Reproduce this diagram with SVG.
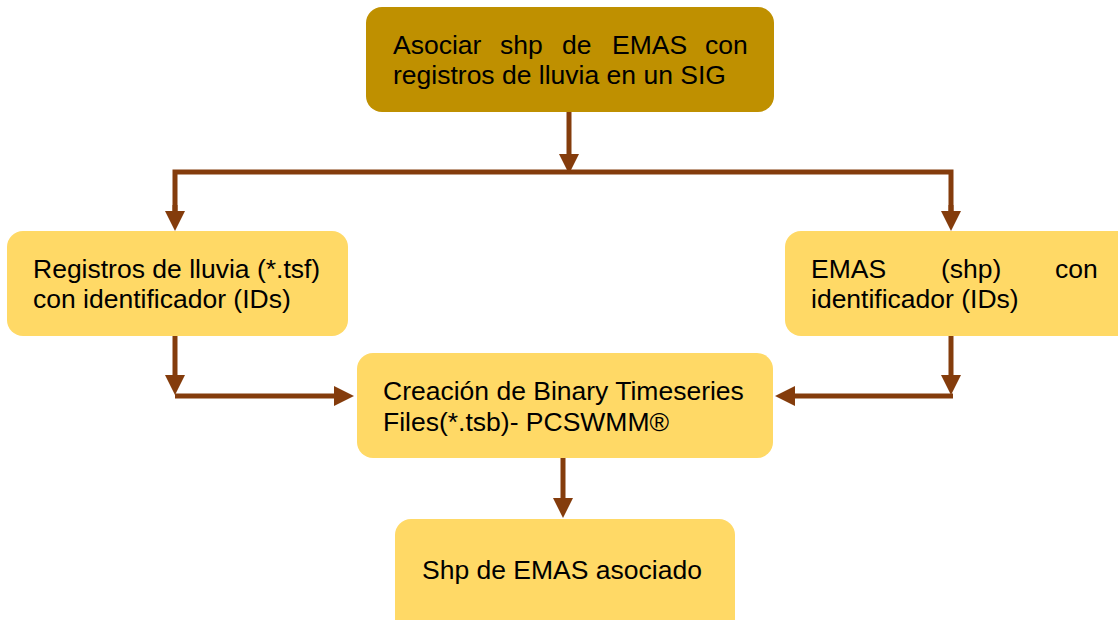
<svg xmlns="http://www.w3.org/2000/svg" width="1118" height="620" viewBox="0 0 1118 620">
<style>
.t{font-family:"Liberation Sans",Arial,sans-serif;font-size:26.5px;fill:#000}
.box{fill:#FFD966}
.conn{stroke:#843C0C;stroke-width:5;fill:none}
</style>
<defs>
<marker id="ah" markerWidth="4" markerHeight="4" refX="2.2" refY="2" orient="auto" markerUnits="strokeWidth" viewBox="0 0 4 4">
<path d="M0,0 L4,2 L0,4 Z" fill="#843C0C"/>
</marker>
</defs>
<rect width="1118" height="620" fill="#fff"/>
<g id="connectors">
<path class="conn" d="M569,112 V165" marker-end="url(#ah)"/>
<path class="conn" d="M175,222 V172 H951 V222"/>
<path class="conn" d="M175,205 V222" marker-end="url(#ah)"/>
<path class="conn" d="M951,205 V222" marker-end="url(#ah)"/>
<path class="conn" d="M175,336 V386" marker-end="url(#ah)"/>
<path class="conn" d="M175,396 H345" marker-end="url(#ah)"/>
<path class="conn" d="M951,336 V386" marker-end="url(#ah)"/>
<path class="conn" d="M953,396 H784" marker-end="url(#ah)"/>
<path class="conn" d="M563,458 V509" marker-end="url(#ah)"/>
</g>
<g id="n1">
<rect x="366" y="7" width="408" height="105" rx="16" fill="#BF9000"/>
<text class="t" y="54"><tspan x="393">Asociar</tspan><tspan x="500">shp</tspan><tspan x="562">de</tspan><tspan x="612">EMAS</tspan><tspan x="705">con</tspan></text>
<text class="t" x="393" y="84">registros de lluvia en un SIG</text>
</g>
<g id="n2">
<rect class="box" x="7" y="231" width="341" height="105" rx="16"/>
<text class="t" x="33" y="278">Registros de lluvia (*.tsf)</text>
<text class="t" x="33" y="308">con identificador (IDs)</text>
</g>
<g id="n3">
<rect class="box" x="785" y="231" width="350" height="105" rx="16"/>
<text class="t" y="278"><tspan x="811">EMAS</tspan><tspan x="941">(shp)</tspan><tspan x="1055">con</tspan></text>
<text class="t" x="811" y="308">identificador (IDs)</text>
</g>
<g id="n4">
<rect class="box" x="357" y="353" width="416" height="105" rx="16"/>
<text class="t" x="383" y="400">Creación de Binary Timeseries</text>
<text class="t" x="383" y="431">Files(*.tsb)- PCSWMM®</text>
</g>
<g id="n5">
<rect class="box" x="395" y="519" width="340" height="120" rx="16"/>
<text class="t" x="422" y="579">Shp de EMAS asociado</text>
</g>
</svg>
